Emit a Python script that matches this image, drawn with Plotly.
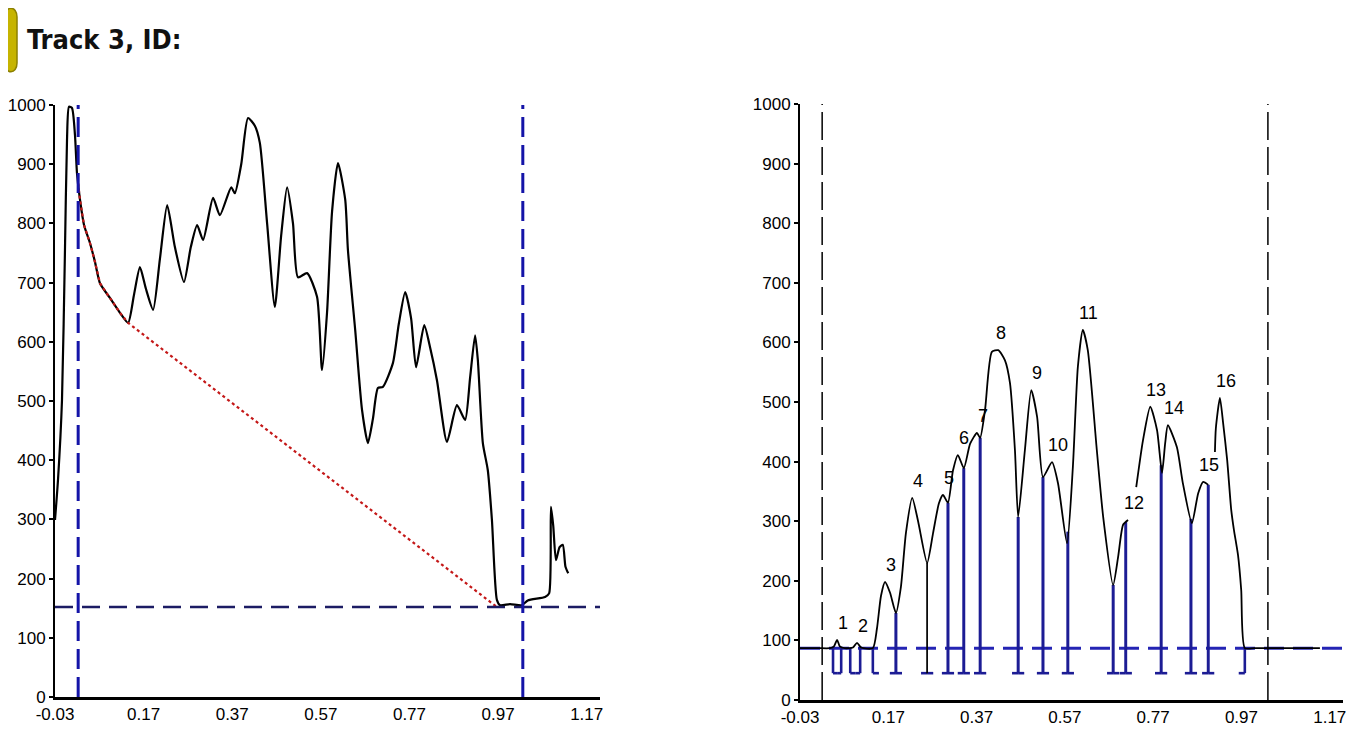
import numpy as np
import plotly.graph_objects as go

OX, OY = 8, 8              # page body margin offset of the plot div
W, H = 1357 - 2 * OX, 738 - 2 * OY   # figure fits the window without scrollbars

# ---------------- data ----------------
tick_vals_x = [-0.03, 0.17, 0.37, 0.57, 0.77, 0.97, 1.17]
tick_text_x = ["-0.03", "0.17", "0.37", "0.57", "0.77", "0.97", "1.17"]
tick_vals_y = [0, 100, 200, 300, 400, 500, 600, 700, 800, 900, 1000]
tick_text_y = [str(v) for v in tick_vals_y]

# left panel: raw lane profile
left_x = [-0.0300, -0.0232, -0.0142, -0.0075, -0.0029, 0.0016, 0.0083, 0.0151, 0.0196, 0.0264,
          0.0356, 0.0489, 0.0602, 0.0715, 0.0940, 0.1166, 0.1350, 0.1484, 0.1617, 0.1750,
          0.1914, 0.2068, 0.2232, 0.2406, 0.2611, 0.2765, 0.2908, 0.3042, 0.3267, 0.3421,
          0.3677, 0.3759, 0.3903, 0.4056, 0.4210, 0.4323, 0.4487, 0.4661, 0.4805, 0.4938,
          0.5071, 0.5184, 0.5389, 0.5614, 0.5727, 0.5840, 0.5953, 0.6086, 0.6250, 0.6311,
          0.6475, 0.6629, 0.6762, 0.6875, 0.6988, 0.7101, 0.7326, 0.7459, 0.7603, 0.7736,
          0.7849, 0.8033, 0.8167, 0.8320, 0.8546, 0.8771, 0.8956, 0.9069, 0.9181, 0.9243,
          0.9356, 0.9468, 0.9561, 0.9673, 0.9745, 0.9971, 1.0237, 1.0370, 1.0760, 1.0852,
          1.0893, 1.0944, 1.1006, 1.1088, 1.1160, 1.1221, 1.1283]
left_y = [299, 367, 502, 755, 941, 997, 995, 949, 885, 840,
          797, 767, 735, 699, 674, 649, 632, 680, 726, 690,
          654, 740, 831, 760, 701, 760, 797, 772, 843, 814,
          861, 851, 900, 978, 965, 936, 800, 659, 780, 861,
          800, 709, 716, 676, 552, 650, 820, 902, 840, 755,
          620, 485, 429, 470, 522, 524, 564, 630, 684, 640,
          557, 628, 590, 535, 431, 493, 468, 540, 611, 569,
          429, 383, 299, 164, 155, 157, 155, 163, 169, 175,
          321, 290, 231, 253, 257, 220, 209]

left_lane_bounds = [0.0223, 1.0258]        # blue dashed verticals
left_background = 152                      # navy dashed horizontal
red_start_x, red_knee_x = 0.0223, 0.1350   # red baseline follows curve, then straight
red_end = (0.9673, 152)

# right panel: background-corrected profile (None = gap)
right_x = [-0.0300, 0.0110, 0.0377, 0.0469, 0.0541, 0.0602, 0.0715, 0.0899, 0.0992, 0.1084, 0.1350,
           0.1443, 0.1535, 0.1627, 0.1740, 0.1873, 0.1986, 0.2099, 0.2242, 0.2375, 0.2580,
           0.2714, 0.2847, 0.2939, 0.3052, 0.3165, 0.3277, 0.3411, 0.3554, 0.3708, 0.3780,
           0.3892, 0.4046, 0.4190, 0.4343, 0.4456, 0.4569, 0.4641, 0.4794, 0.4938, 0.5071,
           0.5204, 0.5409, 0.5543, 0.5748, 0.5881, 0.5994, 0.6106, 0.6219, 0.6424, 0.6568,
           0.6793, 0.6906, 0.7019, 0.7131, None, 0.7316, 0.7470, 0.7634, 0.7787, 0.7900,
           0.7972, 0.8033, 0.8238, 0.8372, 0.8577, 0.8720, 0.8833, 0.8946, None, 0.9099,
           0.9120, 0.9212, 0.9284, 0.9376, 0.9468, 0.9530, 0.9622, 0.9694, 0.9776, 1.0001,
           1.0565, 1.1078, 1.1477]
right_y = [87, 87, 87, 90, 101, 90, 87, 88, 96, 88, 87,
           120, 175, 198, 180, 146, 190, 280, 339, 300, 230,
           280, 330, 344, 331, 385, 411, 389, 430, 448, 440,
           487, 584, 587, 570, 532, 419, 307, 419, 520, 475,
           374, 399, 364, 263, 391, 559, 621, 587, 419, 307,
           193, 240, 294, 302, None, 357, 436, 492, 453, 381,
           431, 461, 424, 364, 297, 347, 366, 361, None, 416,
           456, 507, 465, 403, 319, 285, 243, 185, 87, 87,
           87, 87, 87]

right_lane_bounds = [0.0202, 1.0299]   # black dashed verticals
right_background = 87                  # blue dashed horizontal
drop_bottom = 45

peak_labels = [str(i) for i in range(1, 17)]
peak_start = [0.0448, 0.0838, 0.1350, 0.1873, 0.2580, 0.3052, 0.3411, 0.3780, 0.4641, 0.5204,
              0.5768, 0.6793, 0.7080, 0.7880, 0.8556, 0.8946]
peak_end = [0.0633, 0.1063, 0.1873, 0.2580, 0.3052, 0.3411, 0.3780, 0.4641, 0.5204, 0.5768,
            0.6793, 0.7080, 0.7880, 0.8556, 0.8946, 0.9776]
peak_x = [0.0541, 0.0992, 0.1627, 0.2242, 0.2939, 0.3277, 0.3708, 0.4118, 0.4938, 0.5409,
          0.6106, 0.7131, 0.7634, 0.8033, 0.8833, 0.9212]
peak_y = [101, 96, 198, 339, 344, 411, 448, 587, 520, 399,
          621, 302, 492, 461, 366, 507]
thin_black_drops = [0.2580]

# ---------------- styles ----------------
FONT = "Liberation Sans, Arial, sans-serif"
TITLE_FONT = "DejaVu Sans Condensed, Liberation Sans, sans-serif"
BLUE = "#1414a8"
NAVY = "#1c1c64"
DROP = "#1c1c94"
RED = "#c41818"
X_RANGE = [-0.03, 1.20]


def px_x(p):
    return (p - OX) / W


def px_y(p):
    return 1 - (p - OY) / H


fig = go.Figure()

# ---- left panel ----
fig.add_trace(go.Scatter(x=left_x, y=left_y, mode="lines",
                         line=dict(color="black", width=2.2, shape="spline", smoothing=0.6),
                         xaxis="x", yaxis="y", hoverinfo="skip"))
lx = np.array(left_x); ly = np.array(left_y)
mask = (lx >= red_start_x) & (lx <= red_knee_x)
red_x = [red_start_x] + list(lx[mask]) + [red_end[0]]
red_y = [float(np.interp(red_start_x, lx, ly))] + list(ly[mask]) + [red_end[1]]
fig.add_trace(go.Scatter(x=red_x, y=red_y, mode="lines", line=dict(color=RED, width=2.2, dash="dot"),
                         xaxis="x", yaxis="y", hoverinfo="skip"))
fig.add_trace(go.Scatter(x=X_RANGE, y=[left_background] * 2, mode="lines",
                         line=dict(color=NAVY, width=2.5, dash="18px,9px"), xaxis="x", yaxis="y"))
for b in left_lane_bounds:
    fig.add_trace(go.Scatter(x=[b, b], y=[0, 1000], mode="lines",
                             line=dict(color=BLUE, width=3, dash="20px,8px"), xaxis="x", yaxis="y"))

# ---- right panel ----
fig.add_trace(go.Scatter(x=X_RANGE, y=[right_background] * 2, mode="lines",
                         line=dict(color="#2424b4", width=3, dash="20px,9px"), xaxis="x2", yaxis="y2"))
for b in right_lane_bounds:
    fig.add_trace(go.Scatter(x=[b, b], y=[0, 1000], mode="lines",
                             line=dict(color="black", width=1.5, dash="28px,7px"), xaxis="x2", yaxis="y2"))

# drop lines with caps
rx = np.array([v for v in right_x if v is not None], dtype=float)
ry = np.array([v for v in right_y if v is not None], dtype=float)
cap = 0.0138
vx, vy, bx, by, kx, ky = [], [], [], [], [], []
for s, e in zip(peak_start, peak_end):
    mid = (s + e) / 2
    for xb in (s, e):
        top = float(np.interp(xb, rx, ry))
        if any(abs(xb - t) < 1e-6 for t in thin_black_drops):
            kx += [xb, xb, None]; ky += [top, drop_bottom, None]
        else:
            vx += [xb, xb, None]; vy += [top, drop_bottom, None]
    bx += [s, min(s + cap, mid), None, max(e - cap, mid), e, None]
    by += [drop_bottom, drop_bottom, None, drop_bottom, drop_bottom, None]
fig.add_trace(go.Scatter(x=vx, y=vy, mode="lines", line=dict(color=DROP, width=2.6),
                         xaxis="x2", yaxis="y2", hoverinfo="skip"))
fig.add_trace(go.Scatter(x=bx, y=by, mode="lines", line=dict(color=DROP, width=2.6),
                         xaxis="x2", yaxis="y2", hoverinfo="skip"))
fig.add_trace(go.Scatter(x=kx, y=ky, mode="lines", line=dict(color="black", width=1.3),
                         xaxis="x2", yaxis="y2", hoverinfo="skip"))
fig.add_trace(go.Scatter(x=right_x, y=right_y, mode="lines",
                         line=dict(color="black", width=1.8, shape="spline", smoothing=0.6),
                         xaxis="x2", yaxis="y2", hoverinfo="skip", connectgaps=False))

for lab, px_, py_ in zip(peak_labels, peak_x, peak_y):
    fig.add_annotation(x=px_, y=py_, xref="x2", yref="y2", text=lab, showarrow=False,
                       xshift=6, yshift=17, font=dict(family=FONT, size=18, color="black"))

# ---- title ----
x0, x1 = px_x(5), px_x(17)
yt, yb = px_y(8), px_y(72)
r = 9 / H
pill = (f"M {x0} {yb + r} L {x0} {yt - r} C {x0} {yt + r * 0.3}, {x1} {yt + r * 0.3}, {x1} {yt - r} "
        f"L {x1} {yb + r} C {x1} {yb - r * 0.3}, {x0} {yb - r * 0.3}, {x0} {yb + r} Z")
fig.add_shape(type="path", path=pill, xref="paper", yref="paper",
              fillcolor="#c6b400", line=dict(color="#8c8000", width=1.5))
fig.add_annotation(x=px_x(25), y=px_y(39), xref="paper", yref="paper", text="<b>Track 3, ID:</b>",
                   showarrow=False, xanchor="left", yanchor="middle",
                   font=dict(family=TITLE_FONT, size=27, color="#111111"))

axis_common = dict(showgrid=False, zeroline=False, showline=True, linecolor="black",
                   tickfont=dict(family=FONT, size=17, color="black"), fixedrange=True,
                   automargin=False)
xcommon = dict(axis_common, range=X_RANGE, tickvals=tick_vals_x, ticktext=tick_text_x,
               linewidth=3, ticks="", ticklabelstandoff=0)
ycommon = dict(axis_common, range=[0, 1000], tickvals=tick_vals_y, ticktext=tick_text_y,
               linewidth=2, ticks="outside", ticklen=4, tickwidth=1.5, tickcolor="black",
               ticklabelstandoff=0)

fig.update_layout(
    width=W, height=H, margin=dict(l=0, r=0, t=0, b=0, autoexpand=False),
    paper_bgcolor="white", plot_bgcolor="white", showlegend=False,
    xaxis=dict(xcommon, domain=[px_x(55), px_x(600)], anchor="y"),
    yaxis=dict(ycommon, domain=[px_y(697), px_y(105)], anchor="x"),
    xaxis2=dict(xcommon, domain=[px_x(800), px_x(1343)], anchor="y2"),
    yaxis2=dict(ycommon, domain=[px_y(700), px_y(104)], anchor="x2"),
)

fig.write_html("out.html")
